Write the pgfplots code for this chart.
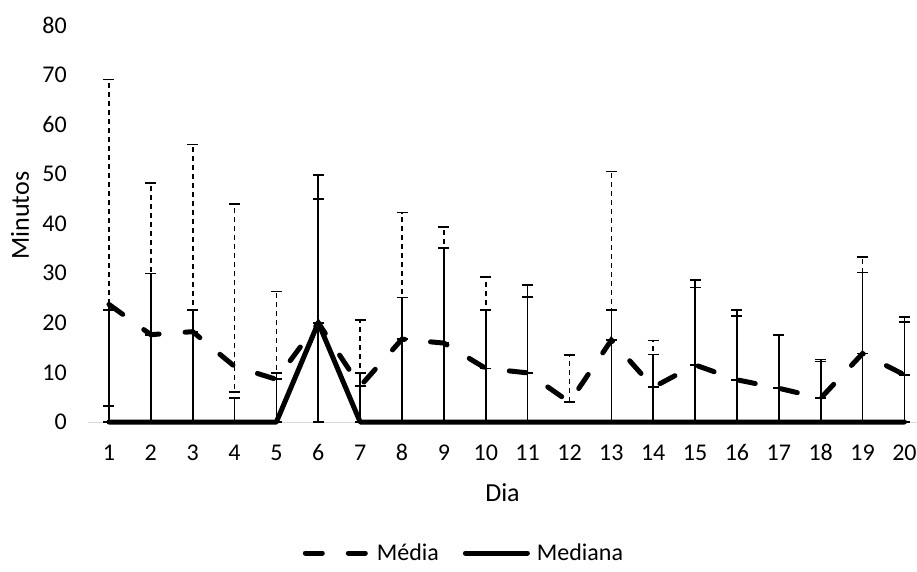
\documentclass[border=0pt]{standalone}
\usepackage{fontspec}
\setmainfont{Carlito}
\usepackage{pgfplots}
\usepackage{pgfplotstable}
\pgfplotsset{compat=1.18}
\definecolor{axgray}{HTML}{D9D9D9}

\pgfplotstableread{
x m ep em
1 23.7 45.3 20.5
2 17.6 30.5 0
3 18.2 37.7 0
4 11.2 32.8 5.2
5 8.6 17.7 0
6 20.0 24.9 0
7 7.2 13.4 0
8 16.7 25.5 0
9 15.9 23.4 0
10 10.8 18.4 0
11 9.9 15.3 0
12 4.0 9.5 0
13 16.5 34.0 0
14 7.0 9.4 0
15 11.5 15.6 0
16 8.5 12.9 0
17 6.8 10.7 0
18 4.8 7.4 0
19 13.8 19.5 0
20 9.5 10.7 0
}\meantab

\pgfplotstableread{
x md ep em
1 0 22.5 0
2 0 29.9 0
3 0 22.5 0
4 0 4.8 0
5 0 9.9 0
6 20 29.8 20
7 0 9.9 0
8 0 25.1 0
9 0 35.1 0
10 0 22.6 0
11 0 27.6 0
12 0 0 0
13 0 22.6 0
14 0 13.6 0
15 0 28.6 0
16 0 22.6 0
17 0 17.5 0
18 0 12.6 0
19 0 30.1 0
20 0 21.2 0
}\mediantab

\begin{document}
\begin{tikzpicture}
\path[use as bounding box] (0,0) rectangle (917pt,571pt);
\begin{axis}[
  at={(88pt,149pt)}, anchor=south west,
  scale only axis, width=829pt, height=397pt,
  xmin=0.5, xmax=20.3, ymin=0, ymax=80,
  clip=false,
  axis x line*=bottom,
  axis y line*=left,
  x axis line style={draw=axgray, line width=1pt, -},
  y axis line style={draw=none},
  major tick length=0pt,
  xtick={1,...,20},
  ytick={0,10,...,80},
  /pgf/number format/assume math mode=true,
  tick label style={font=\fontsize{24}{28}\selectfont},
  yticklabel style={inner sep=0pt, xshift=-21pt},
  xticklabel style={inner sep=0pt, anchor=base, yshift=-38pt},
  xlabel={Dia}, ylabel={Minutos},
  label style={font=\fontsize{26}{30}\selectfont},
  xlabel style={at={(axis description cs:0.5,-0.179)}, anchor=center},
  ylabel style={at={(axis description cs:-0.082,0.52)}, anchor=center},
  legend columns=2,
  legend style={draw=none, fill=none, at={(axis description cs:0.4535,-0.33)}, anchor=center,
    font=\fontsize{24}{28}\selectfont,
    /tikz/every odd column/.append style={column sep=5pt},
    /tikz/every even column/.append style={column sep=22pt}},
  legend image code/.code={\draw[#1] (0pt,0pt) -- (62pt,0pt);},
]
\addplot[black, line width=5pt, line cap=round, dash pattern=on 17pt off 26pt,
  error bars/.cd, y dir=both, y explicit,
  error bar style={line width=1.7pt, line cap=butt, dash pattern=on 5pt off 4pt},
  error mark options={rotate=90, mark size=5.5pt, line width=1.7pt, solid}]
  table[x=x, y=m, y error plus=ep, y error minus=em] {\meantab};
\addlegendentry{Média}
\addplot[black, line width=5pt, line cap=round, line join=round, solid,
  error bars/.cd, y dir=both, y explicit,
  error bar style={line width=1.7pt, solid, line cap=butt},
  error mark options={rotate=90, mark size=5.5pt, line width=1.7pt, solid}]
  table[x=x, y=md, y error plus=ep, y error minus=em] {\mediantab};
\addlegendentry{Mediana}
\end{axis}
\end{tikzpicture}
\end{document}
